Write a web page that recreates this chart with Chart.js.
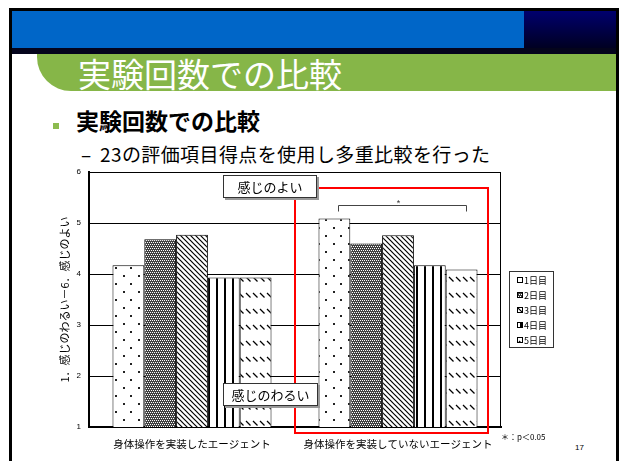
<!DOCTYPE html>
<html>
<head>
<meta charset="utf-8">
<script src="https://cdn.jsdelivr.net/npm/chart.js@4/dist/chart.umd.min.js"></script>
<style>
  html, body { margin: 0; padding: 0; background: #fff; }
  body { width: 622px; height: 461px; position: relative; overflow: hidden; font-family: "Noto Sans CJK JP", sans-serif; }
  .abs { position: absolute; }
  #frame { left: 9px; top: 8px; width: 604px; height: 460px; border: 3px solid #000; border-bottom: none; }
  #blue { left: 12px; top: 11px; width: 512px; height: 37px; background: #0066c8; }
  #navy { left: 524px; top: 11px; width: 92px; height: 37px; background: linear-gradient(#00006e, #000022); }
  #band { left: 12px; top: 48px; width: 604px; height: 6px; background: #04041c; }
  #green { left: 37px; top: 54px; width: 579px; height: 37px; background: #86b648; border-bottom-left-radius: 34px; overflow: hidden; }
  #title { left: 78px; top: 57px; font-size: 33px; line-height: 33px; color: #fff; white-space: nowrap; }
  #bullet { left: 53px; top: 123px; width: 6px; height: 6px; background: #8cbb4f; }
  #head { left: 76px; top: 109px; font-size: 23px; line-height: 23px; font-weight: 700; color: #000; white-space: nowrap; }
  #dash { left: 81px; top: 144px; font-size: 19px; line-height: 19px; color: #000; }
  #sub { left: 100px; top: 144px; font-size: 19px; line-height: 19px; color: #000; white-space: nowrap; letter-spacing: 0.4px; }
  #chart { left: 0; top: 0; z-index: 1; }
  #redbox { left: 294px; top: 187px; width: 191px; height: 243px; border: 2px solid #f00; z-index: 2; }
  .tag { z-index: 3; background: #fff; border: 1px solid #333; box-shadow: 2px 2px 0 #999; font-size: 13px; line-height: 21px; text-align: center; color: #000; white-space: nowrap; }
  #good { left: 223px; top: 175px; width: 92px; height: 21px; }
  #bad { left: 223px; top: 383px; width: 93px; height: 21px; }
  #note { left: 501px; top: 432px; font-size: 8px; line-height: 10px; color: #000; z-index: 3; white-space: nowrap; }
  #page { left: 575px; top: 443px; font-size: 8px; line-height: 10px; color: #000; font-family: "Liberation Sans", sans-serif; }
</style>
</head>
<body>
<div class="abs" id="frame"></div>
<div class="abs" id="blue"></div>
<div class="abs" id="navy"></div>
<div class="abs" id="band"></div>
<div class="abs" id="green"></div>
<div class="abs" id="title">実験回数での比較</div>
<div class="abs" id="bullet"></div>
<div class="abs" id="head">実験回数での比較</div>
<div class="abs" id="dash">–</div>
<div class="abs" id="sub">23の評価項目得点を使用し多重比較を行った</div>
<canvas class="abs" id="chart" width="622" height="461"></canvas>
<div class="abs" id="redbox"></div>
<div class="abs tag" id="good">感じのよい</div>
<div class="abs tag" id="bad">感じのわるい</div>
<div class="abs" id="note">＊：p＜0.05</div>
<div class="abs" id="page">17</div>
<script>
  const categories = ["身体操作を実装したエージェント", "身体操作を実装していないエージェント"];
  const dayLabels = ["1日目", "2日目", "3日目", "4日目", "5日目"];
  const day1 = [4.17, 5.09];
  const day2 = [4.68, 4.60];
  const day3 = [4.77, 4.76];
  const day4 = [3.93, 4.17];
  const day5 = [3.93, 4.09];
  const yTicks = [1, 2, 3, 4, 5, 6];
  const yTitle = "1．感じのわるい－6．感じのよい";

  const canvas = document.getElementById("chart");
  const ctx = canvas.getContext("2d");

  const makePattern = (w, h, draw) => {
    const c = document.createElement("canvas");
    c.width = w;
    c.height = h;
    const g = c.getContext("2d");
    g.fillStyle = "#fff";
    g.fillRect(0, 0, w, h);
    draw(g);
    return ctx.createPattern(c, "repeat");
  };

  const dots = makePattern(15, 16, (g) => {
    g.fillStyle = "#222";
    g.fillRect(3, 3, 2, 2);
    g.fillRect(10, 11, 2, 2);
  });
  const checker = makePattern(4, 4, (g) => {
    g.fillStyle = "#404040";
    g.fillRect(0, 0, 4, 4);
    g.fillStyle = "#fff";
    [[0, 0], [2, 0], [1, 2], [3, 2]].forEach(([x, y]) => g.fillRect(x, y, 1, 1));
  });
  const diagonal = makePattern(5, 5, (g) => {
    g.strokeStyle = "#000";
    g.lineWidth = 1.2;
    for (let x = -5; x <= 5; x += 5) {
      g.beginPath();
      g.moveTo(x - 1, -1);
      g.lineTo(x + 6, 6);
      g.stroke();
    }
  });
  const vertical = makePattern(8, 2, (g) => {
    g.fillStyle = "#000";
    g.fillRect(0, 0, 2, 2);
  });
  const dashes = makePattern(7, 16, (g) => {
    g.strokeStyle = "#000";
    g.lineWidth = 1.3;
    g.beginPath();
    g.moveTo(1, 5);
    g.lineTo(5.5, 9.5);
    g.stroke();
  });

  const fills = [dots, checker, diagonal, vertical, dashes];
  const series = [day1, day2, day3, day4, day5];

  const slideExtras = {
    id: "slideExtras",
    afterDatasetsDraw(chart) {
      const { ctx: c, chartArea: a } = chart;
      c.save();
      c.strokeStyle = "#000";
      c.lineWidth = 1;
      c.beginPath();
      c.moveTo(a.right - 0.5, a.top);
      c.lineTo(a.right - 0.5, a.bottom);
      c.stroke();

      // significance bracket between day 1 and day 5 of second group
      const b1 = chart.getDatasetMeta(0).data[1];
      const b5 = chart.getDatasetMeta(4).data[1];
      const y = Math.round(b1.y - 13) + 0.5;
      const x1 = Math.round(b1.x + 4) + 0.5;
      const x2 = Math.round(b5.x + 4) + 0.5;
      c.strokeStyle = "#444";
      c.beginPath();
      c.moveTo(x1, y + 6);
      c.lineTo(x1, y);
      c.lineTo(x2, y);
      c.lineTo(x2, y + 6);
      c.stroke();
      c.fillStyle = "#333";
      c.font = "9px 'Liberation Sans'";
      c.textAlign = "center";
      c.textBaseline = "middle";
      c.fillText("*", (x1 + x2) / 2 - 4, y - 2);

      // legend
      const lx = 509, ly = 271, lw = 44, lh = 76;
      c.fillStyle = "#fff";
      c.fillRect(lx, ly, lw, lh);
      c.strokeStyle = "#333";
      c.strokeRect(lx + 0.5, ly + 0.5, lw, lh);
      c.font = "9px 'Noto Sans CJK JP'";
      c.textAlign = "left";
      chart.data.datasets.forEach((ds, i) => {
        const cy = ly + 9 + i * 15;
        c.fillStyle = ds.backgroundColor;
        c.fillRect(517, cy - 3, 5, 6);
        c.strokeStyle = "#000";
        c.strokeRect(517.5, cy - 2.5, 5, 5);
        c.fillStyle = "#000";
        c.fillText(ds.label, 524, cy + 0.5);
      });
      c.restore();
    },
  };

  new Chart(ctx, {
    type: "bar",
    data: {
      labels: categories,
      datasets: series.map((values, i) => ({
        label: dayLabels[i],
        data: values,
        backgroundColor: fills[i],
        borderColor: "#000",
        borderWidth: 1,
        borderSkipped: false,
        categoryPercentage: 0.772,
        barPercentage: 1,
      })),
    },
    options: {
      responsive: false,
      animation: false,
      devicePixelRatio: 1,
      layout: { padding: { left: 40, right: 121, top: 172, bottom: 10 } },
      plugins: {
        legend: { display: false },
        tooltip: { enabled: false },
      },
      scales: {
        x: {
          grid: { display: false, drawTicks: false },
          border: { color: "#000", width: 2 },
          ticks: {
            color: "#000",
            font: { family: "'Noto Sans CJK JP'", size: 10.5 },
            padding: 11,
            maxRotation: 0,
            autoSkip: false,
          },
          afterFit: (s) => { s.height = 24; },
        },
        y: {
          min: yTicks[0],
          max: yTicks[yTicks.length - 1],
          grid: { color: "#000", lineWidth: 1, drawTicks: false },
          border: { color: "#000", width: 2 },
          ticks: {
            stepSize: 1,
            color: "#000",
            font: { family: "'Liberation Sans'", size: 8 },
            padding: 8,
          },
          title: {
            display: true,
            text: yTitle,
            color: "#000",
            font: { family: "'Noto Sans CJK JP'", size: 11 },
            padding: { top: 18, bottom: 0 },
          },
          afterFit: (s) => { s.width = 49; },
        },
      },
    },
    plugins: [slideExtras],
  });
</script>
</body>
</html>
